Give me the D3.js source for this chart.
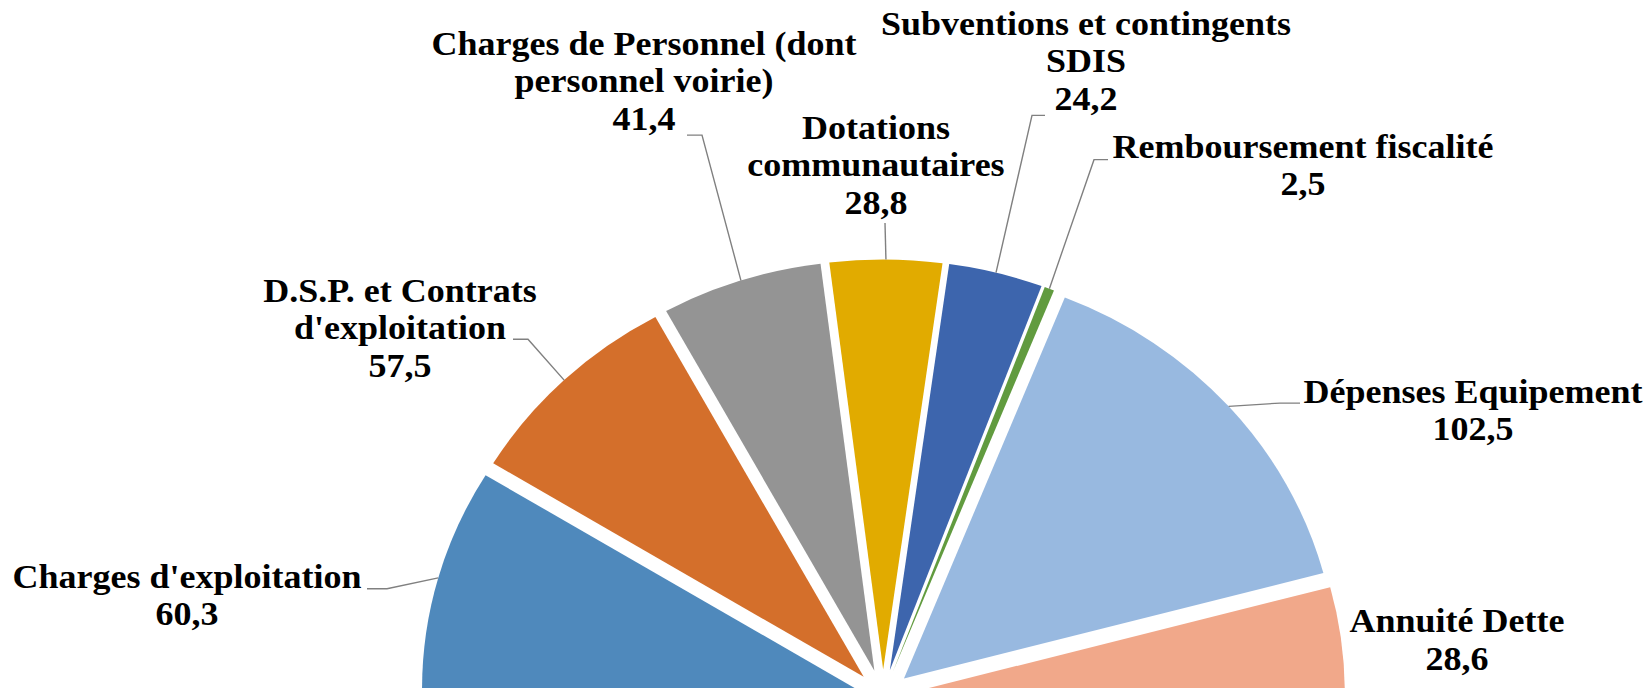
<!DOCTYPE html>
<html>
<head>
<meta charset="utf-8">
<script src="https://cdn.jsdelivr.net/npm/d3@7"></script>
<style>
  body { margin: 0; background: #fff; }
</style>
</head>
<body>
<svg width="1650" height="688"></svg>
<script>
// data
var categories = ["Charges d'exploitation", "D.S.P. et Contrats d'exploitation",
    "Charges de Personnel (dont personnel voirie)", "Dotations communautaires",
    "Subventions et contingents SDIS", "Remboursement fiscalité",
    "Dépenses Equipement", "Annuité Dette"];
var values = [60.3, 57.5, 41.4, 28.8, 24.2, 2.5, 102.5, 28.6];
var labelLines = [
    ["Charges d'exploitation"],
    ["D.S.P. et Contrats", "d'exploitation"],
    ["Charges de Personnel (dont", "personnel voirie)"],
    ["Dotations", "communautaires"],
    ["Subventions et contingents", "SDIS"],
    ["Remboursement fiscalité"],
    ["Dépenses Equipement"],
    ["Annuité Dette"]
];
var colors = ["#4f89bc", "#d46f2b", "#949494", "#e1ab00", "#3d65ad", "#619b3f", "#98b9e0", "#f1a88a"];

// layout (unscaled units, group is squeezed vertically)
var ky = 0.945;
var cx = 883, cy = 736.5, R = 434, explode = 28;
// label anchor: x centre, first baseline; leader: end near label, elbow
var labelPos = [
    {x: 187,  y: 622,   end: [367, 623],  elbow: [387, 623]},
    {x: 400,  y: 319.5, end: [513, 359],  elbow: [528, 359]},
    {x: 644,  y: 58,    end: [687, 143],  elbow: [702, 143]},
    {x: 876,  y: 147,   end: [885, 236],  elbow: [885, 236]},
    {x: 1086, y: 37,    end: [1045, 122], elbow: [1032, 122]},
    {x: 1303, y: 167,   end: [1108, 169], elbow: [1094, 169]},
    {x: 1473, y: 426.5, end: [1300, 426.5], elbow: [1280, 426.5]},
    {x: 1457, y: 669,   end: null, elbow: null}
];
var lineH = 39.6;
var fontFamily = "'Liberation Serif', 'Times New Roman', Tinos, 'DejaVu Serif', serif";

var fmt = function(v) { return d3.format(".1f")(v).replace(".", ","); };

var svg = d3.select("svg");
var g = svg.append("g").attr("transform", "scale(1," + ky + ")");

var data = categories.map(function(c, i) { return {name: c, value: values[i], i: i}; });

var pie = d3.pie()
    .sort(null)
    .value(function(d) { return d.value; })
    .startAngle(-Math.PI / 2)
    .endAngle(Math.PI / 2);

var arc = d3.arc().innerRadius(0).outerRadius(R);
var arcs = pie(data);

function midAngle(a) { return (a.startAngle + a.endAngle) / 2; }

g.append("g")
    .attr("class", "slices")
    .selectAll("path")
    .data(arcs)
    .enter()
    .append("path")
    .attr("d", arc)
    .attr("fill", function(d) { return colors[d.data.i]; })
    .attr("transform", function(d) {
        var m = midAngle(d);
        return "translate(" + (cx + explode * Math.sin(m)) + "," + (cy - explode * Math.cos(m)) + ")";
    });

// leader lines
g.append("g")
    .attr("class", "leaders")
    .selectAll("path")
    .data(arcs.filter(function(d) { return labelPos[d.data.i].end; }))
    .enter()
    .append("path")
    .attr("fill", "none")
    .attr("stroke", "#808080")
    .attr("stroke-width", 1.4)
    .attr("d", function(d) {
        var m = midAngle(d), p = labelPos[d.data.i];
        var ax = cx + (R + explode) * Math.sin(m),
            ay = cy - (R + explode) * Math.cos(m);
        return "M" + ax + "," + ay + "L" + p.elbow[0] + "," + p.elbow[1] + "L" + p.end[0] + "," + p.end[1];
    });

// labels
var lab = g.append("g")
    .attr("class", "labels")
    .selectAll("text")
    .data(arcs)
    .enter()
    .append("text")
    .attr("text-anchor", "middle")
    .attr("font-family", fontFamily)
    .attr("font-weight", "bold")
    .attr("font-size", 36)
    .attr("fill", "#000")
    .attr("x", function(d) { return labelPos[d.data.i].x; })
    .attr("y", function(d) { return labelPos[d.data.i].y; });

lab.each(function(d) {
    var t = d3.select(this), p = labelPos[d.data.i];
    var lines = labelLines[d.data.i].concat([fmt(d.data.value)]);
    lines.forEach(function(s, k) {
        t.append("tspan")
            .attr("x", p.x)
            .attr("y", p.y + k * lineH)
            .text(s);
    });
});
</script>
</body>
</html>
